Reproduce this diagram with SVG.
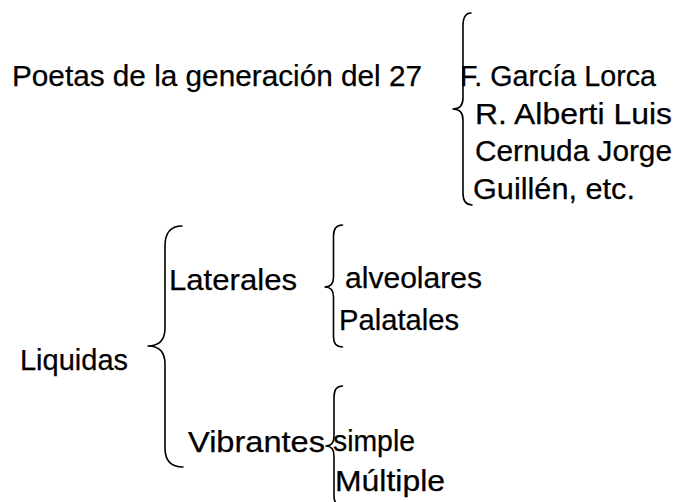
<svg xmlns="http://www.w3.org/2000/svg" width="682" height="502" viewBox="0 0 682 502">
<style>
text{font-family:"Liberation Sans",Arial,sans-serif;font-size:29px;fill:#000;stroke:#000;stroke-width:0.25}
.brace{fill:none;stroke:#000;stroke-width:1.6;stroke-linecap:round;stroke-linejoin:round}
</style>
<rect width="682" height="502" fill="#fff"/>
<g id="connectors">
<path class="brace" d="M471 13 Q463 13 463 26 L463 98 Q463 109 453 109 Q463 109 463 120 L463 193 Q463 205 472 205"/>
<path class="brace" d="M182 226 Q165 226 165 246 L165 328 Q165 346 148 346 Q165 346 165 364 L165 448 Q165 467 183 467"/>
<path class="brace" d="M342.5 225 Q333.5 225 333.5 236 L333.5 277 Q333.5 287 325 287 Q333.5 287 333.5 297 L333.5 337 Q333.5 347 342.5 347"/>
<path class="brace" d="M342.5 386 Q334 386 334 397 L334 436 Q334 446 326 446 Q334 446 334 456 L334 496 Q334 506 342.5 506"/>
</g>
<g id="poetas"><text x="12" y="86" textLength="410" lengthAdjust="spacingAndGlyphs">Poetas de la generación del 27</text></g>
<g id="lorca"><text x="460" y="86" textLength="196" lengthAdjust="spacingAndGlyphs">F. García Lorca</text></g>
<g id="alberti"><text x="475" y="124" textLength="197" lengthAdjust="spacingAndGlyphs">R. Alberti Luis</text></g>
<g id="cernuda"><text x="475" y="161" textLength="197" lengthAdjust="spacingAndGlyphs">Cernuda Jorge</text></g>
<g id="guillen"><text x="473" y="199" textLength="162" lengthAdjust="spacingAndGlyphs">Guillén, etc.</text></g>
<g id="liquidas"><text x="20" y="370" textLength="108" lengthAdjust="spacingAndGlyphs">Liquidas</text></g>
<g id="laterales"><text x="169" y="290" textLength="128" lengthAdjust="spacingAndGlyphs">Laterales</text></g>
<g id="vibrantes"><text x="188" y="452" textLength="137" lengthAdjust="spacingAndGlyphs">Vibrantes</text></g>
<g id="alveolares"><text x="345" y="288" textLength="137" lengthAdjust="spacingAndGlyphs">alveolares</text></g>
<g id="palatales"><text x="339" y="330" textLength="120" lengthAdjust="spacingAndGlyphs">Palatales</text></g>
<g id="simple"><text x="333" y="451" textLength="82" lengthAdjust="spacingAndGlyphs">simple</text></g>
<g id="multiple"><text x="335" y="491" textLength="110" lengthAdjust="spacingAndGlyphs">Múltiple</text></g>
</svg>
